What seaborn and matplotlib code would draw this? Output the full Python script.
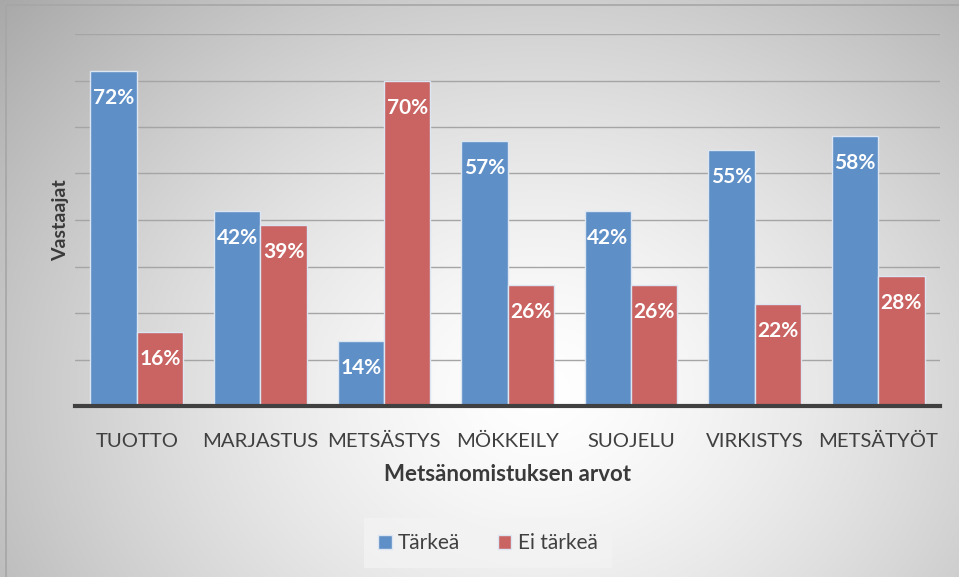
import numpy as np
import pandas as pd
import matplotlib
matplotlib.use("Agg")
import matplotlib.pyplot as plt
import seaborn as sns
from matplotlib.patches import Rectangle

categories = ["TUOTTO", "MARJASTUS", "METSÄSTYS", "MÖKKEILY", "SUOJELU", "VIRKISTYS", "METSÄTYÖT"]
tarkea = [72, 42, 14, 57, 42, 55, 58]
ei_tarkea = [16, 39, 70, 26, 26, 22, 28]
series_names = ["Tärkeä", "Ei tärkeä"]

df = pd.DataFrame({
    "cat": categories * 2,
    "val": tarkea + ei_tarkea,
    "series": [series_names[0]] * len(categories) + [series_names[1]] * len(categories),
})

sns.set_style("white")
plt.rcParams["font.family"] = ["Lato", "DejaVu Sans"]

fig = plt.figure(figsize=(9.59, 5.77), dpi=100)
W, H = 959, 577

# background radial gradient
bg = fig.add_axes([0, 0, 1, 1], zorder=-10)
yy, xx = np.mgrid[0:H, 0:W]
cx, cy = 540, 390
r = np.sqrt(((xx - cx) / 560.0) ** 2 + ((yy - cy) / 460.0) ** 2)
val = 1 - 0.24 * np.clip(r, 0, 1.4) ** 1.4
img = np.dstack([val, val, val])
bg.imshow(img, extent=[0, W, H, 0], aspect="auto", interpolation="bilinear")
bg.set_xlim(0, W)
bg.set_ylim(H, 0)
bg.axis("off")
bg.add_patch(Rectangle((6, 5), 960, 580, fill=False, edgecolor="#A6A6A6", linewidth=1.2))

ax = fig.add_axes([75 / W, 1 - 406 / H, (940 - 75) / W, (406 - 34) / H])
ax.patch.set_alpha(0)

blue = "#5F8FC7"
red = "#C96463"
sns.barplot(data=df, x="cat", y="val", hue="series", palette=[blue, red],
            width=0.75, ax=ax, edgecolor="#DCE6F2", linewidth=1.0, saturation=1, zorder=3)

ax.set_ylim(0, 80)
ax.set_xlim(-0.5, len(categories) - 0.5)
ax.set_yticks(np.arange(10, 81, 10))
ax.yaxis.grid(True, color="#A5A5A5", linewidth=1.0, zorder=0)
ax.set_axisbelow(True)
ax.tick_params(axis="y", left=False, labelleft=False)
ax.tick_params(axis="x", bottom=False, labelsize=14.6, colors="#404040", pad=16)
for s in ["top", "right", "left"]:
    ax.spines[s].set_visible(False)
ax.spines["bottom"].set_color("#404040")
ax.spines["bottom"].set_linewidth(3)
ax.spines["bottom"].set_zorder(5)

for cont in ax.containers:
    for p in cont:
        h = p.get_height()
        ax.annotate(f"{h:.0f}%", (p.get_x() + p.get_width() / 2, h),
                    xytext=(0, -27), textcoords="offset pixels",
                    ha="center", va="center", color="white",
                    fontsize=15, fontweight="bold", zorder=6)

ax.set_xlabel("Metsänomistuksen arvot", fontsize=16, fontweight="bold", color="#3A3A3A", labelpad=10)
ax.set_ylabel("Vastaajat", fontsize=14, fontweight="bold", color="#3A3A3A", labelpad=4)

handles, labels = ax.get_legend_handles_labels()
ax.get_legend().remove()
leg = fig.legend(handles, labels, loc="center", bbox_to_anchor=(488 / W, 1 - 543 / H),
                 ncol=2, frameon=True, fontsize=15, handlelength=0.65, handleheight=0.65,
                 handletextpad=0.3, columnspacing=1.8, borderpad=0.7, fancybox=False)
leg.get_frame().set_facecolor("#F3F3F3")
leg.get_frame().set_edgecolor("none")
for t in leg.get_texts():
    t.set_color("#404040")

fig.savefig("out.png", dpi=100)
